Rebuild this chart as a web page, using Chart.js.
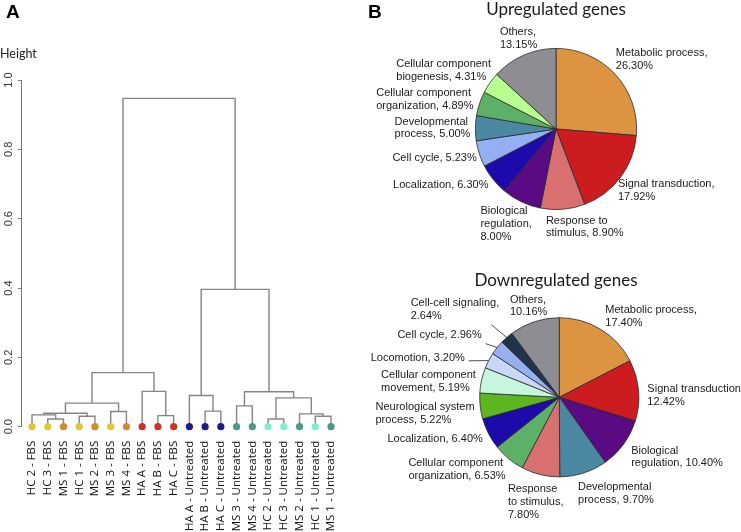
<!DOCTYPE html>
<html lang="en">
  <head>
    <meta charset="UTF-8" />
    <title>Dendrogram and GO pie charts</title>
    <script src="https://cdn.jsdelivr.net/npm/chart.js"></script>
    <style>
      body { margin: 0; background: #fff; }
      #page { position: relative; width: 741px; height: 532px; overflow: hidden; }
      .box { position: absolute; }
      .panel { position: absolute; font: bold 19px "Liberation Sans", Arial, sans-serif; color: #000; }
      .title { position: absolute; font: 17px Lato, "Open Sans", sans-serif; color: #1a1a1a; white-space: nowrap; transform: translateX(-50%); }
      #ylab { position: absolute; left: 0; top: 46px; font: 12.5px Lato, "Liberation Sans", sans-serif; color: #222; }
    </style>
  </head>
  <body>
    <div id="page">
      <div class="box" style="left:0;top:0"><canvas id="dendro" width="370" height="532"></canvas></div>
      <div class="box" style="left:370px;top:0"><canvas id="pieUp" width="371" height="260"></canvas></div>
      <div class="box" style="left:370px;top:260px"><canvas id="pieDown" width="371" height="272"></canvas></div>
      <div class="panel" style="left:6px;top:1px">A</div>
      <div class="panel" style="left:368px;top:1px">B</div>
      <div id="ylab">Height</div>
      <div class="title" style="left:556px;top:-2px">Upregulated genes</div>
      <div class="title" style="left:556px;top:269px">Downregulated genes</div>
    </div>

    <script>
      // ---------- dendrogram data ----------
      const leafLabels = [
        "HC 2 - FBS", "HC 3 - FBS", "MS 1 - FBS", "HC 1 - FBS", "MS 2 - FBS",
        "MS 3 - FBS", "MS 4 - FBS", "HA A - FBS", "HA B - FBS", "HA C - FBS",
        "HA A - Untreated", "HA B - Untreated", "HA C - Untreated",
        "MS 3 - Untreated", "MS 4 - Untreated", "HC 2 - Untreated",
        "HC 3 - Untreated", "MS 2 - Untreated", "HC 1 - Untreated", "MS 1 - Untreated",
      ];
      // merges like R hclust: negative = leaf number, positive = earlier merge
      const mergeA = [-2, -1, -4, 2, -6, 4, -9, -8, 6, -12, -11, -14, -16, -19, -18, 13, 12, 11, 9];
      const mergeB = [-3, 1, -5, 3, -7, 5, -10, 7, 8, -13, 10, -15, -17, -20, 14, 15, 16, 17, 18];
      const mergeHeight = [0.022, 0.034, 0.030, 0.039, 0.044, 0.068, 0.032, 0.102, 0.156,
        0.045, 0.090, 0.060, 0.022, 0.030, 0.037, 0.083, 0.101, 0.396, 0.947];
      const heightTicks = [0, 0.2, 0.4, 0.6, 0.8, 1.0];

      // ---------- pie data ----------
      const upCategories = ["Metabolic process", "Signal transduction", "Response to stimulus",
        "Biological regulation", "Localization", "Cell cycle", "Developmental process",
        "Cellular component organization", "Cellular component biogenesis", "Others"];
      const upValues = [26.30, 17.92, 8.90, 8.00, 6.30, 5.23, 5.00, 4.89, 4.31, 13.15];

      const downCategories = ["Metabolic process", "Signal transduction", "Biological regulation",
        "Developmental process", "Response to stimulus", "Cellular component organization",
        "Localization", "Neurological system process", "Cellular component movement",
        "Locomotion", "Cell cycle", "Cell-cell signaling", "Others"];
      const downValues = [17.40, 12.42, 10.40, 9.70, 7.80, 6.53, 6.40, 5.22, 5.19, 3.20, 2.96, 2.64, 10.16];

      // ---------- styles / layout ----------
      const leafColors = ["#e0c832", "#e0c832", "#d4892e", "#e0c832", "#d4892e", "#e0c832", "#d4892e",
        "#cc3328", "#cc3328", "#cc3328", "#1e1a8c", "#1e1a8c", "#1e1a8c",
        "#4a9a88", "#4a9a88", "#7eeed8", "#7eeed8", "#4a9a88", "#7eeed8", "#4a9a88"];
      const upColors = ["#dd9440", "#cc1c20", "#d97070", "#5a0a82", "#1c0aaa", "#95b0f2",
        "#4b88a2", "#5cb068", "#b6ff90", "#8e8d93"];
      const downColors = ["#dd9440", "#cc1c20", "#5a0a82", "#4b88a2", "#d97070", "#5cb068",
        "#1c0aaa", "#5db520", "#c6f6de", "#c8d8f6", "#95b0f2", "#1f3449", "#8e8d93"];
      const upWrap = [95, 100, 80, 55, 100, 100, 80, 100, 100, 45];
      const downWrap = [95, 100, 95, 80, 57, 100, 100, 100, 100, 100, 100, 100, 45];
      const upNudge = [[6, 0], [0, 0], [18, -4], [0, -3], [-8, -4], [4, 0], [4, 0], [0, 3], [0, 0], [6, 3]];
      const downNudge = [[22, 6], [0, 7], [9, 0], [18, 0], [4, 0], [-15, -6], [-3, -2], [3, 5], [2, 6],
        [-7, 12], [-5, 7], [-6, 0], [3, 5]];
      const downLeader = [0, 0, 0, 0, 0, 0, 0, 0, 0, 1, 1, 1, 0];

      Chart.defaults.font.family = '"Liberation Sans", Arial, sans-serif';
      Chart.defaults.animation = false;

      // ---------- dendrogram ----------
      const nodeX = [];
      function nodePos(id) {
        return id < 0 ? [-id, 0] : [nodeX[id - 1], mergeHeight[id - 1]];
      }
      const branchSets = mergeHeight.map((h, k) => {
        const [xa, ya] = nodePos(mergeA[k]);
        const [xb, yb] = nodePos(mergeB[k]);
        nodeX[k] = (xa + xb) / 2;
        return {
          data: [{ x: xa, y: ya }, { x: xa, y: h }, { x: xb, y: h }, { x: xb, y: yb }],
          showLine: true,
          borderColor: "#858585",
          borderWidth: 1.4,
          pointRadius: 0,
          tension: 0,
          clip: false,
        };
      });

      const leafSet = {
        data: leafLabels.map((_, i) => ({ x: i + 1, y: 0 })),
        backgroundColor: leafColors,
        borderWidth: 0,
        pointRadius: 3.6,
        clip: false,
      };

      new Chart("dendro", {
        type: "scatter",
        data: { datasets: [leafSet, ...branchSets] },
        options: {
          responsive: false,
          events: [],
          layout: { padding: { top: 80, right: 25, left: 0, bottom: 0 } },
          plugins: { legend: { display: false }, tooltip: { enabled: false } },
          scales: {
            x: {
              type: "linear",
              min: 0.3,
              max: 20.89,
              grid: { display: false, drawTicks: false },
              border: { display: false },
              afterBuildTicks: (s) => { s.ticks = leafLabels.map((_, i) => ({ value: i + 1 })); },
              afterFit: (s) => { s.height = 105.3; },
              ticks: {
                autoSkip: false,
                minRotation: 90,
                maxRotation: 90,
                padding: 14,
                color: "#111",
                font: { family: '"Open Sans", "Liberation Sans", sans-serif', size: 11.5 },
                callback: (v) => leafLabels[v - 1],
              },
            },
            y: {
              min: 0,
              max: 1,
              afterBuildTicks: (s) => { s.ticks = heightTicks.map((v) => ({ value: v })); },
              afterFit: (s) => { s.width = 21; },
              grid: { drawOnChartArea: false, drawTicks: true, tickLength: 3, color: "#777" },
              border: { display: true, color: "#777", width: 1 },
              ticks: {
                minRotation: 90,
                maxRotation: 90,
                crossAlign: "center",
                padding: 1,
                color: "#333",
                font: { size: 11 },
                callback: (v) => v.toFixed(1),
              },
            },
          },
        },
      });

      // ---------- pie label plugin ----------
      function wrapText(ctx, text, maxW) {
        const words = text.split(" ");
        const lines = [];
        let cur = "";
        words.forEach((w) => {
          const test = cur ? cur + " " + w : w;
          if (cur && ctx.measureText(test).width > maxW) {
            lines.push(cur);
            cur = w;
          } else {
            cur = test;
          }
        });
        lines.push(cur);
        return lines;
      }

      const sliceLabels = {
        id: "sliceLabels",
        afterDatasetsDraw(chart, args, o) {
          const ctx = chart.ctx;
          const arcs = chart.getDatasetMeta(0).data;
          const vals = chart.data.datasets[0].data;
          const lh = 12.7;
          ctx.save();
          ctx.font = '11px "Liberation Sans", Arial, sans-serif';
          ctx.fillStyle = "#1a1a1a";
          ctx.strokeStyle = "#222";
          ctx.lineWidth = 0.8;
          ctx.textBaseline = "middle";
          ctx.textAlign = "left";
          arcs.forEach((arc, i) => {
            const text = chart.data.labels[i] + ", " + vals[i].toFixed(2) + "%";
            const lines = wrapText(ctx, text, o.wrap[i]);
            const w = Math.max(...lines.map((l) => ctx.measureText(l).width));
            const h = lines.length * lh;
            const mid = (arc.startAngle + arc.endAngle) / 2;
            const c = Math.cos(mid), s = Math.sin(mid);
            const lead = o.leader && o.leader[i];
            const R = arc.outerRadius + (lead ? o.leaderGap : o.gap);
            const px = arc.x + R * c + o.nudge[i][0];
            const py = arc.y + R * s + o.nudge[i][1];
            const left = px + (c * w) / 2 - w / 2;
            const top = py + (s * h) / 2 - h / 2;
            lines.forEach((l, k) => ctx.fillText(l, left, top + lh * (k + 0.5)));
            if (lead) {
              const ex = arc.x + arc.outerRadius * c, ey = arc.y + arc.outerRadius * s;
              let qx = px, qy = py;
              for (let t = 0; t <= 1; t += 0.01) {
                const x = ex + (px - ex) * t, y = ey + (py - ey) * t;
                if (x > left - 4 && x < left + w + 4 && y > top - 3 && y < top + h + 3) {
                  qx = x; qy = y; break;
                }
              }
              ctx.beginPath();
              ctx.moveTo(ex, ey);
              ctx.lineTo(qx, qy);
              ctx.stroke();
            }
          });
          ctx.restore();
        },
      };

      function makePie(id, labels, values, colors, pad, labelOpts) {
        return new Chart(id, {
          type: "pie",
          data: {
            labels: labels,
            datasets: [{ data: values, backgroundColor: colors, borderColor: "#2b2b2b", borderWidth: 0.8 }],
          },
          options: {
            responsive: false,
            events: [],
            layout: { padding: pad },
            plugins: { legend: { display: false }, tooltip: { enabled: false }, sliceLabels: labelOpts },
          },
          plugins: [sliceLabels],
        });
      }

      makePie("pieUp", upCategories, upValues, upColors,
        { left: 105, right: 104, top: 48, bottom: 50 },
        { wrap: upWrap, nudge: upNudge, gap: 9 });

      makePie("pieDown", downCategories, downValues, downColors,
        { left: 109.3, right: 101.7, top: 57.3, bottom: 54.7 },
        { wrap: downWrap, nudge: downNudge, leader: downLeader, gap: 9, leaderGap: 25 });
    </script>
  </body>
</html>
